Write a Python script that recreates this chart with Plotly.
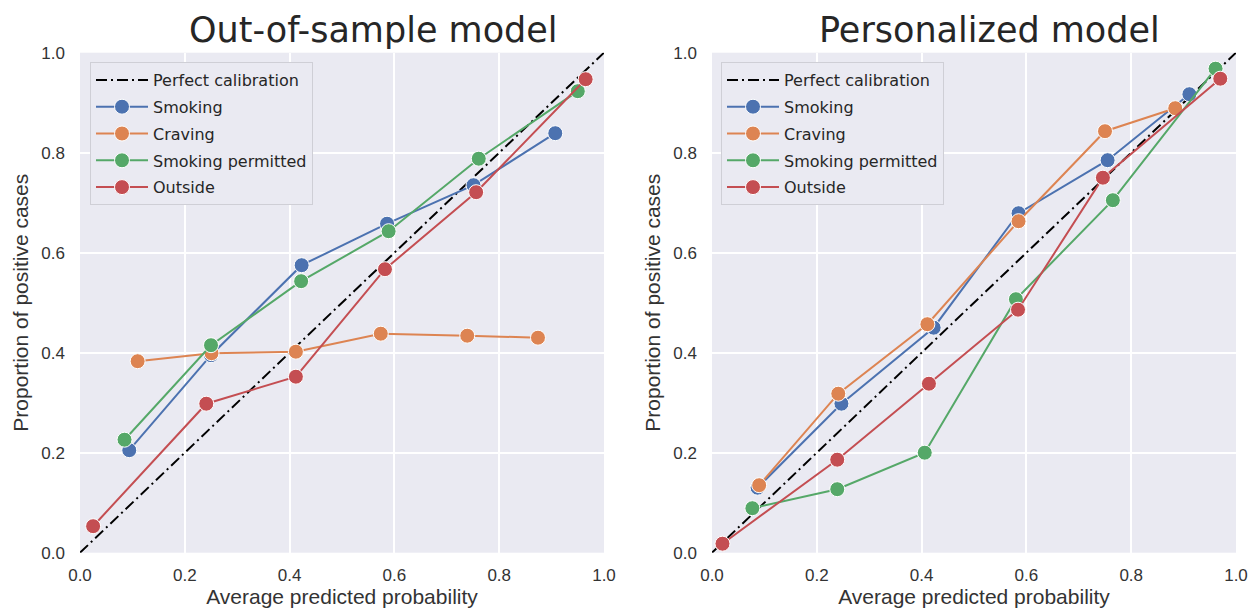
import plotly.graph_objects as go

# Calibration-curve data: mean predicted probability (x) vs fraction of positives (y)
labels = ["Smoking", "Craving", "Smoking permitted", "Outside"]
colors = ["#4C72B0", "#DD8452", "#55A868", "#C44E52"]

# Out-of-sample model
oos_smoking_x = [0.094, 0.250, 0.423, 0.586, 0.751, 0.907]
oos_smoking_y = [0.205, 0.395, 0.575, 0.658, 0.735, 0.839]
oos_craving_x = [0.110, 0.251, 0.412, 0.574, 0.739, 0.874]
oos_craving_y = [0.383, 0.399, 0.402, 0.438, 0.434, 0.430]
oos_permitted_x = [0.085, 0.250, 0.422, 0.589, 0.761, 0.950]
oos_permitted_y = [0.226, 0.415, 0.543, 0.643, 0.788, 0.923]
oos_outside_x = [0.025, 0.241, 0.412, 0.582, 0.756, 0.965]
oos_outside_y = [0.053, 0.298, 0.352, 0.567, 0.721, 0.947]

# Personalized model
per_smoking_x = [0.087, 0.247, 0.423, 0.585, 0.755, 0.911]
per_smoking_y = [0.130, 0.298, 0.450, 0.679, 0.785, 0.917]
per_craving_x = [0.090, 0.241, 0.411, 0.585, 0.750, 0.884]
per_craving_y = [0.135, 0.318, 0.457, 0.663, 0.843, 0.889]
per_permitted_x = [0.077, 0.239, 0.406, 0.580, 0.765, 0.961]
per_permitted_y = [0.089, 0.127, 0.200, 0.507, 0.705, 0.968]
per_outside_x = [0.020, 0.239, 0.414, 0.584, 0.746, 0.970]
per_outside_y = [0.018, 0.186, 0.338, 0.486, 0.750, 0.948]

diag = [0.0, 1.0]
tick_vals = [0.0, 0.2, 0.4, 0.6, 0.8, 1.0]
tick_text = ["0.0", "0.2", "0.4", "0.6", "0.8", "1.0"]

panels = [
    ("Out-of-sample model", "x", "y", "legend", 0.56,
     [(oos_smoking_x, oos_smoking_y), (oos_craving_x, oos_craving_y),
      (oos_permitted_x, oos_permitted_y), (oos_outside_x, oos_outside_y)]),
    ("Personalized model", "x2", "y2", "legend2", 0.53,
     [(per_smoking_x, per_smoking_y), (per_craving_x, per_craving_y),
      (per_permitted_x, per_permitted_y), (per_outside_x, per_outside_y)]),
]

fig = go.Figure()
for title, xa, ya, leg, tx, series in panels:
    fig.add_trace(go.Scatter(
        x=diag, y=diag, mode="lines", name="Perfect calibration",
        line=dict(color="black", width=2, dash="11px,4px,2px,4px"),
        xaxis=xa, yaxis=ya, legend=leg, legendgroup=leg + "pc",
        hoverinfo="skip"))
    for (sx, sy), name, col in zip(series, labels, colors):
        fig.add_trace(go.Scatter(
            x=sx, y=sy, mode="lines+markers", name=name,
            line=dict(color=col, width=2),
            marker=dict(color=col, size=15, line=dict(color="white", width=1)),
            xaxis=xa, yaxis=ya, legend=leg, legendgroup=leg + name))

axis_common = dict(
    range=[0, 1], tickvals=tick_vals, ticktext=tick_text,
    showgrid=True, gridcolor="white", gridwidth=1.5,
    zeroline=False, showline=False, ticks="", automargin=False,
    tickfont=dict(family="Liberation Sans, Arial", size=17, color="#333333"),
)
x_title = dict(text="Average predicted probability",
               font=dict(family="Liberation Sans, Arial", size=21, color="#333333"),
               standoff=4)
y_title = dict(text="Proportion of positive cases",
               font=dict(family="Liberation Sans, Arial", size=21, color="#333333"),
               standoff=6)

W, H = 1250, 610
left_dom = [80 / W, 604 / W]
right_dom = [712 / W, 1236 / W]
y_dom = [1 - 552.7 / H, 1 - 52.7 / H]

legend_common = dict(
    bgcolor="#EAEAF2", bordercolor="#CFCFD6", borderwidth=1,
    font=dict(family="DejaVu Sans", size=16, color="#262626"),
    tracegroupgap=3, yanchor="top", xanchor="left",
    itemwidth=52,
)

fig.update_layout(
    width=W, height=H,
    margin=dict(l=0, r=0, t=0, b=0, autoexpand=False),
    paper_bgcolor="white", plot_bgcolor="#EAEAF2",
    xaxis=dict(domain=left_dom, anchor="y", title=x_title,
               ticklabelstandoff=10, **axis_common),
    yaxis=dict(domain=y_dom, anchor="x", title=y_title,
               ticklabelstandoff=14, **axis_common),
    xaxis2=dict(domain=right_dom, anchor="y2", title=x_title,
                ticklabelstandoff=10, **axis_common),
    yaxis2=dict(domain=y_dom, anchor="x2", title=y_title,
                ticklabelstandoff=14, **axis_common),
    legend=dict(x=90 / W, y=1 - 62 / H, **legend_common),
    legend2=dict(x=721 / W, y=1 - 62 / H, **legend_common),
    showlegend=True,
)

for title, xa, ya, leg, tx, series in panels:
    fig.add_annotation(
        text=title, xref=xa + " domain", yref="paper",
        x=tx, y=1 - 30 / H, xanchor="center", yanchor="middle",
        showarrow=False,
        font=dict(family="DejaVu Sans", size=35, color="#262626"))

fig.write_html("out.html")
